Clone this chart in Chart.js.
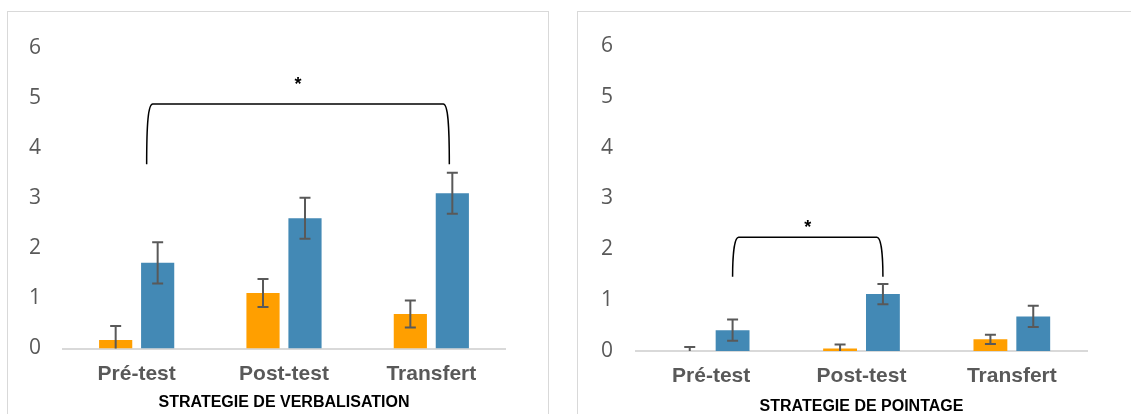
<!DOCTYPE html>
<html>
<head>
<meta charset="utf-8">
<script src="https://cdn.jsdelivr.net/npm/chart.js@4"></script>
<style>
  body { margin: 0; background: #fff; width: 1131px; height: 414px; overflow: hidden; position: relative; }
  .frame { position: absolute; box-sizing: border-box; border: 1.5px solid #d9d9d9; height: 430px; }
  canvas { position: absolute; top: 0; }
</style>
</head>
<body>
<div class="frame" style="left:7px; top:11px; width:542px;"></div>
<div class="frame" style="left:577px; top:11px; width:600px;"></div>
<canvas id="verb" width="560" height="414" style="left:0"></canvas>
<canvas id="point" width="571" height="418" style="left:560px"></canvas>
<script>
// données
const categories = ['Pré-test', 'Post-test', 'Transfert'];
const yTicks = [0, 1, 2, 3, 4, 5, 6];

const verbOrange = [0.17, 1.11, 0.69];
const verbOrangeErr = [0.28, 0.28, 0.27];
const verbBlue = [1.71, 2.60, 3.10];
const verbBlueErr = [0.41, 0.41, 0.41];

const pointOrange = [0, 0.05, 0.23];
const pointOrangeErr = [0.08, 0.08, 0.09];
const pointBlue = [0.41, 1.12, 0.68];
const pointBlueErr = [0.21, 0.2, 0.21];

const ORANGE = '#FF9F00';
const BLUE = '#4389B5';

// barres d'erreur
const errorBarsPlugin = {
    id: 'errorBars',
    afterDatasetsDraw(chart) {
        const ctx = chart.ctx;
        const y = chart.scales.y;
        ctx.save();
        ctx.strokeStyle = '#595959';
        ctx.lineWidth = 2;
        chart.data.datasets.forEach((ds, di) => {
            const meta = chart.getDatasetMeta(di);
            meta.data.forEach((bar, i) => {
                const v = ds.data[i], e = ds.errors[i];
                const top = y.getPixelForValue(v + e);
                const bot = y.getPixelForValue(Math.max(v - e, 0));
                const cap = 5.5;
                ctx.beginPath();
                ctx.moveTo(bar.x, top); ctx.lineTo(bar.x, bot);
                ctx.moveTo(bar.x - cap, top); ctx.lineTo(bar.x + cap, top);
                if (v - e > 0) { ctx.moveTo(bar.x - cap, bot); ctx.lineTo(bar.x + cap, bot); }
                ctx.stroke();
            });
        });
        ctx.restore();
    }
};

// accolade de significativité
const bracketPlugin = {
    id: 'bracket',
    afterDatasetsDraw(chart, args, opts) {
        if (!opts || opts.from === undefined) return;
        const ctx = chart.ctx;
        const y = chart.scales.y;
        const meta = chart.getDatasetMeta(1);
        const xL = meta.data[opts.from].x + (opts.dxFrom || 0);
        const xR = meta.data[opts.to].x + (opts.dxTo || 0);
        const yTop = y.getPixelForValue(opts.high);
        const yBot = y.getPixelForValue(opts.low);
        ctx.save();
        ctx.strokeStyle = '#000';
        ctx.lineWidth = 1.5;
        ctx.beginPath();
        ctx.moveTo(xL, yBot);
        ctx.bezierCurveTo(xL, yTop + 20, xL + 1.5, yTop, xL + 6, yTop);
        ctx.lineTo(xR - 6, yTop);
        ctx.bezierCurveTo(xR - 1.5, yTop, xR, yTop + 20, xR, yBot);
        ctx.stroke();
        ctx.fillStyle = '#000';
        ctx.font = 'bold 18px "Liberation Sans", Arial, sans-serif';
        ctx.textAlign = 'center';
        ctx.textBaseline = 'middle';
        ctx.fillText('*', (xL + xR) / 2, y.getPixelForValue(opts.star) + 3);
        ctx.restore();
    }
};

function makeChart(id, title, orange, orangeErr, blue, blueErr, bracket, geo) {
    return new Chart(document.getElementById(id), {
        type: 'bar',
        data: {
            labels: categories,
            datasets: [
                { label: 'Groupe 1', data: orange, errors: orangeErr, backgroundColor: ORANGE, borderWidth: 0 },
                { label: 'Groupe 2', data: blue, errors: blueErr, backgroundColor: BLUE, borderWidth: 0 }
            ]
        },
        options: {
            responsive: false,
            animation: false,
            devicePixelRatio: 1,
            categoryPercentage: 0.57,
            barPercentage: 0.79,
            layout: { padding: { left: 0, top: geo.top, right: geo.right, bottom: 2 } },
            scales: {
                x: {
                    afterFit(scale) { scale.height = geo.bottom; },
                    grid: { display: false, drawTicks: false },
                    border: { display: true, color: '#d9d9d9', width: 2 },
                    ticks: { padding: 13, color: '#595959', maxRotation: 0,
                             font: { family: '"Liberation Sans", Arial, sans-serif', size: 21, weight: 'bold' } },
                    title: { display: true, text: title, color: '#000', padding: 0,
                             font: { family: '"Liberation Sans", Arial, sans-serif', size: 16, weight: 'bold' } }
                },
                y: {
                    min: 0, max: 6,
                    afterFit(scale) { scale.width = geo.left; },
                    afterBuildTicks(scale) { scale.ticks = yTicks.map(v => ({ value: v })); },
                    grid: { display: false, drawTicks: false },
                    border: { display: false },
                    ticks: { padding: geo.tickPad, color: '#595959',
                             font: { family: '"Open Sans", sans-serif', size: 21 } }
                }
            },
            plugins: {
                legend: { display: false },
                tooltip: { enabled: false },
                bracket: bracket
            }
        },
        plugins: [errorBarsPlugin, bracketPlugin]
    });
}

makeChart('verb', 'STRATEGIE DE VERBALISATION', verbOrange, verbOrangeErr, verbBlue, verbBlueErr,
    { from: 0, to: 2, low: 3.68, high: 4.88, star: 5.32, dxFrom: -11, dxTo: -3 },
    { left: 63, top: 48, right: 55, bottom: 63.5, tickPad: 22 });

makeChart('point', 'STRATEGIE DE POINTAGE', pointOrange, pointOrangeErr, pointBlue, pointBlueErr,
    { from: 0, to: 1, low: 1.46, high: 2.24, star: 2.48 },
    { left: 76, top: 46, right: 44, bottom: 65, tickPad: 23 });
</script>
</body>
</html>
